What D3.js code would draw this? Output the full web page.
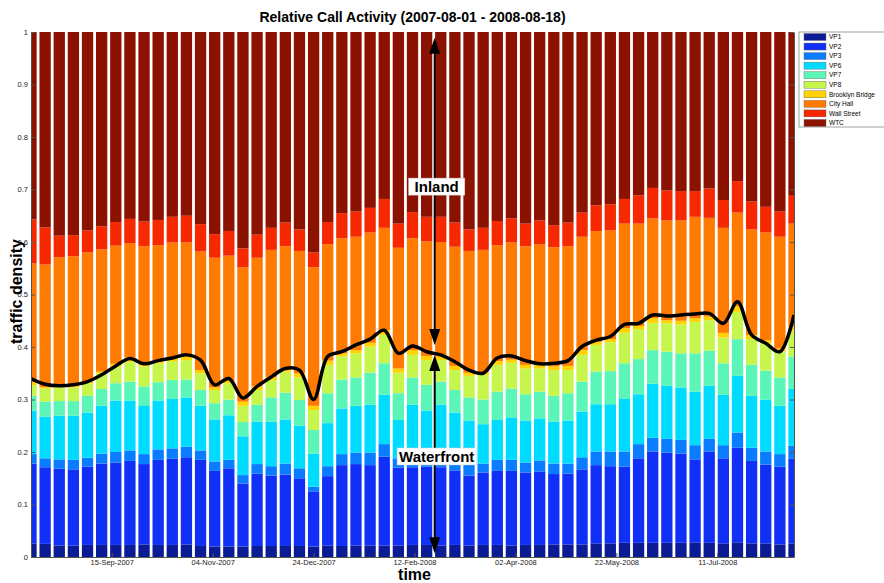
<!DOCTYPE html>
<html>
<head>
<meta charset="utf-8">
<script src="https://d3js.org/d3.v7.min.js"></script>
<style>
body { margin: 0; background: #fff; }
svg { display: block; font-family: "Liberation Sans", Arial, sans-serif; }
</style>
</head>
<body>
<svg width="884" height="583"></svg>
<script>

// weekly bars, first one on 06-Aug-2007, last on 18-Aug-2008
var firstWeek = new Date(2007, 7, 6),
    lastWeek = new Date(2008, 7, 18),
    nWeeks = 55;

var seriesNames = ["VP1", "VP2", "VP3", "VP6", "VP7", "VP8", "Brooklyn Bridge", "City Hall", "Wall Street", "WTC"];
var seriesColors = ["#0b1b95", "#1030f8", "#0a7cff", "#00dcff", "#5bf5b8", "#c6f54c", "#ffd200", "#ff7a00", "#f52800", "#8c1200"];

var vp1 = [.026,.025,.022,.022,.023,.023,.023,.023,.024,.023,.023,
           .024,.021,.020,.020,.020,.021,.021,.021,.021,.020,.022,
           .021,.022,.022,.022,.022,.023,.023,.022,.023,.022,.023,
           .023,.022,.023,.023,.024,.024,.024,.026,.026,.027,.027,
           .027,.027,.027,.028,.027,.026,.028,.026,.026,.024,.026];
var vp2 = [.152,.146,.146,.145,.149,.155,.157,.160,.153,.162,.164,
           .166,.164,.144,.149,.120,.138,.134,.136,.129,.105,.132,
           .154,.155,.153,.169,.148,.148,.149,.149,.142,.133,.138,
           .141,.142,.138,.140,.134,.135,.143,.149,.147,.145,.161,
           .174,.172,.170,.158,.174,.162,.180,.157,.150,.148,.161];
var vp3 = [.018,.017,.018,.018,.017,.019,.020,.020,.019,.020,.020,
           .020,.018,.018,.016,.016,.018,.018,.021,.019,.009,.019,
           .021,.022,.024,.024,.018,.029,.023,.027,.025,.023,.017,
           .021,.021,.019,.021,.020,.019,.023,.026,.028,.029,.027,
           .026,.026,.026,.027,.024,.025,.029,.025,.025,.024,.025];
var vp6 = [.083,.079,.083,.084,.086,.091,.098,.095,.093,.093,.094,
           .094,.085,.080,.085,.074,.081,.085,.084,.081,.063,.082,
           .087,.089,.091,.094,.073,.090,.084,.092,.085,.082,.075,
           .076,.081,.080,.080,.080,.082,.087,.090,.090,.100,.095,
           .103,.101,.100,.102,.101,.096,.108,.099,.099,.092,.108];
var vp7 = [.028,.029,.028,.028,.032,.032,.033,.036,.036,.035,.036,
           .034,.030,.031,.030,.027,.032,.046,.051,.049,.045,.057,
           .055,.054,.061,.060,.051,.052,.049,.044,.043,.044,.047,
           .054,.055,.050,.051,.049,.052,.057,.062,.063,.068,.067,
           .064,.065,.065,.073,.067,.060,.070,.059,.055,.054,.062];
var vp8 = [.020,.025,.026,.026,.024,.030,.032,.038,.038,.036,.036,
           .037,.032,.025,.031,.031,.028,.033,.040,.043,.038,.054,
           .044,.046,.050,.054,.039,.043,.047,.041,.038,.041,.047,
           .051,.049,.049,.044,.049,.044,.051,.051,.055,.058,.057,
           .052,.054,.055,.060,.058,.049,.052,.049,.052,.049,.050];
var brooklyn = [.006,.003,.003,.003,.003,.003,.005,.008,.005,.005,.006,
                .007,.006,.005,.005,.008,.007,.006,.006,.008,.008,.008,
                .006,.006,.007,.009,.008,.009,.008,.007,.008,.006,.004,
                .007,.006,.007,.007,.007,.008,.009,.006,.006,.009,.006,
                .009,.006,.007,.007,.007,.009,.011,.008,.006,.006,.007];
var cityHall = [.226,.233,.245,.247,.246,.233,.225,.218,.224,.220,.220,
                .217,.226,.247,.238,.256,.245,.242,.233,.233,.264,.222,
                .219,.216,.210,.195,.230,.213,.218,.218,.227,.232,.234,
                .221,.223,.226,.230,.227,.228,.216,.211,.207,.199,.195,
                .190,.190,.191,.193,.188,.200,.178,.201,.205,.213,.196];
var wallSt = [.084,.071,.041,.040,.042,.044,.045,.046,.047,.048,.049,
              .051,.052,.045,.047,.036,.044,.042,.045,.041,.028,.042,
              .048,.048,.047,.055,.046,.050,.047,.048,.046,.041,.042,
              .046,.046,.043,.045,.042,.045,.046,.049,.050,.047,.054,
              .058,.057,.056,.049,.056,.053,.060,.053,.049,.048,.053];
var wtc = [.357,.372,.388,.387,.378,.370,.362,.356,.361,.358,.352,
           .350,.366,.385,.379,.412,.386,.373,.363,.376,.420,.362,
           .345,.342,.335,.318,.365,.343,.352,.352,.363,.376,.373,
           .360,.355,.365,.359,.368,.363,.344,.330,.328,.318,.311,
           .297,.302,.303,.303,.298,.320,.284,.323,.333,.342,.312];

// smoothed waterfront share (black curve)
var waterfront = [.340,.329,.326,.328,.334,.347,.364,.378,.368,.374,.379,
                  .385,.375,.328,.340,.303,.325,.343,.359,.356,.300,.382,
                  .391,.404,.415,.432,.388,.402,.391,.385,.372,.356,.350,
                  .379,.383,.374,.368,.369,.374,.401,.413,.420,.443,.445,
                  .461,.459,.461,.463,.464,.445,.486,.423,.407,.391,.461];

var xTickLabels = ["15-Sep-2007", "04-Nov-2007", "24-Dec-2007", "12-Feb-2008", "02-Apr-2008", "22-May-2008", "11-Jul-2008"];
var yTicks = [0, .1, .2, .3, .4, .5, .6, .7, .8, .9, 1];

var allSeries = [vp1, vp2, vp3, vp6, vp7, vp8, brooklyn, cityHall, wallSt, wtc];

var svg = d3.select("svg"),
    marginLeft = 31, marginTop = 32,
    width = 763, height = 525,
    g = svg.append("g").attr("transform", "translate(" + marginLeft + "," + marginTop + ")");

var parseTick = d3.timeParse("%d-%b-%Y"),
    formatTick = d3.timeFormat("%d-%b-%Y");

var weeks = d3.range(nWeeks).map(function(i) { return d3.timeDay.offset(firstWeek, 7 * i); });

var table = weeks.map(function(d, i) {
  var row = {date: d};
  seriesNames.forEach(function(name, k) { row[name] = allSeries[k][i]; });
  return row;
});

var x = d3.scaleTime().domain([firstWeek, lastWeek]).range([0, width]);
var y = d3.scaleLinear().domain([0, 1]).range([height, 0]);
var color = d3.scaleOrdinal().domain(seriesNames).range(seriesColors);

var barWidth = 0.8 * (x(weeks[1]) - x(weeks[0]));

svg.append("defs").append("clipPath").attr("id", "plot")
  .append("rect").attr("width", width).attr("height", height);

var layers = d3.stack().keys(seriesNames)(table);

var plot = g.append("g").attr("clip-path", "url(#plot)");

plot.selectAll("g.layer")
  .data(layers)
  .enter().append("g")
    .attr("class", "layer")
    .attr("fill", function(d) { return color(d.key); })
  .selectAll("rect")
  .data(function(d) { return d; })
  .enter().append("rect")
    .attr("x", function(d) { return x(d.data.date) - barWidth / 2; })
    .attr("y", function(d) { return y(d[1]); })
    .attr("width", barWidth)
    .attr("height", function(d) { return y(d[0]) - y(d[1]); });

var line = d3.line()
    .x(function(d, i) { return x(weeks[i]); })
    .y(function(d) { return y(d); })
    .curve(d3.curveCatmullRom.alpha(0.5));

plot.append("path")
    .datum(waterfront)
    .attr("fill", "none")
    .attr("stroke", "#000")
    .attr("stroke-width", 3.5)
    .attr("stroke-linejoin", "round")
    .attr("d", line);

// axes, ticks pointing inward like matlab
var xTicks = xTickLabels.map(parseTick);

function styleAxis(sel) {
  sel.select(".domain").attr("stroke", "#555");
  sel.selectAll(".tick line").attr("stroke", "#555");
  sel.selectAll(".tick text").attr("fill", "#222").style("font-size", "7.5px");
}

g.append("g")
    .attr("transform", "translate(0," + height + ")")
    .call(d3.axisBottom(x).tickValues(xTicks).tickFormat(formatTick).tickSizeInner(-4).tickSizeOuter(0).tickPadding(3))
    .call(styleAxis);

g.append("g")
    .call(d3.axisLeft(y).tickValues(yTicks).tickFormat(function(d) { return d == 0 || d == 1 ? d3.format("d")(d) : d3.format(".1f")(d); })
      .tickSizeInner(-4).tickSizeOuter(0).tickPadding(3))
    .call(styleAxis);

g.append("g")
    .attr("transform", "translate(" + width + ",0)")
    .call(d3.axisRight(y).tickValues(yTicks).tickFormat("").tickSizeInner(-4).tickSizeOuter(0))
    .call(styleAxis);

// annotations
var arrowX = x(new Date(2008, 1, 22));

function arrow(v0, v1) {
  g.append("line")
      .attr("x1", arrowX).attr("x2", arrowX)
      .attr("y1", y(v0) + 6).attr("y2", y(v1) - 6)
      .attr("stroke", "#000").attr("stroke-width", 2);
  [[v0, 1], [v1, -1]].forEach(function(p) {
    var ty = y(p[0]);
    g.append("path")
        .attr("d", "M" + arrowX + "," + ty + "L" + (arrowX - 5.5) + "," + (ty + p[1] * 16) + "L" + (arrowX + 5.5) + "," + (ty + p[1] * 16) + "Z")
        .attr("fill", "#000");
  });
}
arrow(0.989, 0.404);
arrow(0.385, 0.007);

function label(text, v, padX) {
  var t = g.append("text")
      .attr("x", arrowX + 2)
      .attr("y", y(v))
      .attr("dy", "0.35em")
      .attr("text-anchor", "middle")
      .style("font-size", "15px")
      .style("font-weight", "bold")
      .text(text);
  var b = t.node().getBBox();
  g.insert("rect", function() { return t.node(); })
      .attr("x", b.x - padX).attr("y", b.y)
      .attr("width", b.width + 2 * padX).attr("height", b.height)
      .attr("fill", "#fff").attr("stroke", "#ccc").attr("stroke-width", 0.5);
}
label("Inland", 0.705, 6);
label("Waterfront", 0.191, 2);

// titles
svg.append("text")
    .attr("x", marginLeft + width / 2)
    .attr("y", 22)
    .attr("text-anchor", "middle")
    .style("font-size", "14px")
    .style("font-weight", "bold")
    .text("Relative Call Activity (2007-08-01 - 2008-08-18)");

svg.append("text")
    .attr("x", marginLeft + width / 2 + 2)
    .attr("y", 580)
    .attr("text-anchor", "middle")
    .style("font-size", "16px")
    .style("font-weight", "bold")
    .text("time");

svg.append("text")
    .attr("transform", "translate(22," + (marginTop + height / 2 - 3) + ") rotate(-90)")
    .attr("text-anchor", "middle")
    .style("font-size", "16px")
    .style("font-weight", "bold")
    .text("traffic density");

// legend
var legend = svg.append("g").attr("transform", "translate(799,32)");

legend.append("rect")
    .attr("width", 100).attr("height", 95)
    .attr("fill", "#fff").attr("stroke", "#888").attr("stroke-width", 0.8);

var item = legend.selectAll("g.item")
  .data(seriesNames)
  .enter().append("g")
    .attr("class", "item")
    .attr("transform", function(d, i) { return "translate(5," + (1.5 + i * 9.55) + ")"; });

item.append("rect")
    .attr("width", 22).attr("height", 7)
    .attr("fill", function(d) { return color(d); })
    .attr("stroke", "#666").attr("stroke-width", 0.4);

item.append("text")
    .attr("x", 25).attr("y", 3.5)
    .attr("dy", "0.35em")
    .style("font-size", "6.5px")
    .text(function(d) { return d; });

</script>
</body>
</html>
